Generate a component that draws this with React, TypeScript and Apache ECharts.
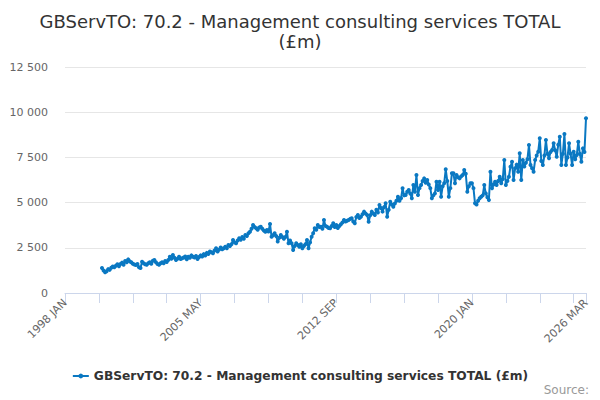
import React, { useEffect, useRef } from "react";
import * as echarts from "echarts";

const TITLE = "GBServTO: 70.2 - Management consulting services TOTAL\n(£m)";
const SERIES_NAME = "GBServTO: 70.2 - Management consulting services TOTAL (£m)";
const MONTHS = ["JAN", "FEB", "MAR", "APR", "MAY", "JUN", "JUL", "AUG", "SEP", "OCT", "NOV", "DEC"];
const FIRST_YEAR = 1998;
const LAST_YEAR = 2026;
const LAST_MONTH = 3; // MAR
const DATA_START = "2000 JAN";

const values2000s = [
  // 2000
  1380, 1250, 1150, 1200, 1320, 1280, 1400, 1460, 1420, 1510, 1590, 1480,
  // 2001
  1600, 1680, 1560, 1770, 1700, 1860, 1750, 1700, 1620, 1580, 1550, 1600,
  // 2002
  1420, 1380, 1730, 1650, 1590, 1560, 1640, 1700, 1620, 1780, 1825, 1700,
  // 2003
  1600, 1560, 1650, 1700, 1640, 1770, 1720, 1820, 2010, 1900, 2100, 1950,
  // 2004
  1830, 1900, 2010, 1880, 1920, 1960, 2020, 1870, 2010, 1950, 2080, 2000,
  // 2005
  1960, 2050, 1880, 1990, 2080, 2020, 2150, 2080, 2220, 2160, 2300, 2250,
  // 2006
  2200, 2350, 2470, 2300, 2400, 2520, 2420, 2470, 2560, 2480, 2650, 2600,
  // 2007
  2700, 2930, 2800, 2750, 2900, 3025, 2950, 3100, 3000, 3210, 3150, 3300,
  // 2008
  3390, 3550, 3760, 3650, 3580, 3500, 3620, 3670, 3550, 3450, 3390, 3480,
  // 2009
  3400, 3820, 3110, 3200, 3300, 3150, 2850, 3050, 3210, 3100, 3000, 3100,
];

const values2010s = [
  // 2010
  3390, 2750, 2900, 2750, 2380, 2600, 2750, 2650, 2560, 2700, 2470, 2600,
  // 2011
  2700, 2930, 2470, 2800, 3110, 3300, 3580, 3500, 3760, 3650, 3670, 3550,
  // 2012
  4040, 3700, 3670, 3600, 3580, 3700, 3855, 3650, 3760, 3600, 3700, 3800,
  // 2013
  3900, 4040, 3950, 4000, 4040, 4100, 4130, 3950, 3855, 4200, 4310, 4150,
  // 2014
  4220, 4350, 4500, 4400, 4310, 3940, 4300, 4500, 4400, 4310, 4600, 4450,
  // 2015
  4865, 4700, 4500, 4750, 4960, 4220, 4600, 5050, 4900, 4770, 4950, 5100,
  // 2016
  5325, 5100, 5235, 5790, 5400, 5420, 5600, 5700, 5500, 5235, 5970, 5600,
  // 2017
  6525, 5420, 5800, 5970, 6200, 6340, 6100, 6250, 6000, 5800, 5235, 5400,
  // 2018
  5510, 6155, 5700, 6155, 5325, 5900, 6065, 6840, 6200, 5325, 5800, 6620,
  // 2019
  6620, 6065, 6525, 6400, 6340, 6450, 6525, 6800, 6600, 5600, 5900, 6065,
];

const values2020s = [
  // 2020
  6065, 5800, 4960, 4900, 5100, 5235, 5325, 5400, 5970, 5510, 5300, 5140,
  // 2021
  6710, 5790, 6000, 6155, 5970, 6200, 6430, 6065, 6300, 7355, 5970, 6200,
  // 2022
  6430, 6985, 7260, 6250, 6895, 7100, 6710, 7725, 6250, 7355, 7000, 7200,
  // 2023
  7400, 8185, 7080, 6900, 6710, 7355, 7600, 7815, 8555, 7300, 7080, 7600,
  // 2024
  8460, 7700, 7450, 7800, 7910, 8280, 7900, 7540, 8200, 8645, 7080, 7700,
  // 2025
  8790, 7080, 7500, 8280, 7700, 7080, 7815, 7400, 7630, 8370, 7700, 7260,
  // 2026
  8000, 7800, 9660,
];

const Y_MIN = 0;
const Y_MAX = 12500;
const Y_STEP = 2500;
const TICK_EVERY = 22;
const LABEL_EVERY = 88;

function buildCategories(): string[] {
  const out: string[] = [];
  for (let y = FIRST_YEAR; y <= LAST_YEAR; y++) {
    for (let m = 0; m < 12; m++) {
      if (y === LAST_YEAR && m >= LAST_MONTH) break;
      out.push(`${y} ${MONTHS[m]}`);
    }
  }
  return out;
}

function fmt(v: number): string {
  return String(v).replace(/\B(?=(\d{3})+(?!\d))/g, " ");
}

export default function App() {
  const ref = useRef<HTMLDivElement>(null);

  useEffect(() => {
    if (!ref.current) return;
    const chart = echarts.init(ref.current, null, { renderer: "svg" });
    const categories = buildCategories();
    const allValues = [...values2000s, ...values2010s, ...values2020s];
    const startIdx = categories.indexOf(DATA_START);
    const data: (number | null)[] = categories.map((_, i) =>
      i >= startIdx && i - startIdx < allValues.length ? allValues[i - startIdx] : null
    );
    const last = categories.length - 1;
    const font = "'DejaVu Sans', sans-serif";
    const color = "#0a78c2";

    chart.setOption({
      animation: false,
      textStyle: { fontFamily: font },
      title: {
        text: TITLE,
        left: "center",
        top: 6,
        textStyle: {
          fontFamily: font,
          fontSize: 18,
          fontWeight: "normal",
          color: "#333333",
          lineHeight: 20,
        },
      },
      grid: { left: 65, right: 14, top: 67, bottom: 107, containLabel: false },
      legend: {
        top: 365,
        left: "center",
        itemWidth: 16,
        itemHeight: 6,
        itemGap: 10,
        textStyle: { fontFamily: font, fontSize: 12.25, fontWeight: "bold", color: "#333333" },
        data: [SERIES_NAME],
      },
      xAxis: {
        type: "category",
        data: categories,
        boundaryGap: false,
        axisLine: { show: true, lineStyle: { color: "#ccd6eb", width: 1 } },
        axisTick: {
          show: true,
          length: 10,
          interval: (i: number) => i % TICK_EVERY === 0 || i === last,
          lineStyle: { color: "#ccd6eb" },
        },
        axisLabel: {
          interval: (i: number) => i % LABEL_EVERY === 0 || i === last,
          rotate: 45,
          color: "#666666",
          fontSize: 11,
          fontFamily: font,
          margin: 8,
          hideOverlap: false,
        },
        splitLine: { show: false },
      },
      yAxis: {
        type: "value",
        min: Y_MIN,
        max: Y_MAX,
        interval: Y_STEP,
        axisLine: { show: false },
        axisTick: { show: false },
        axisLabel: {
          color: "#666666",
          fontSize: 11,
          fontFamily: font,
          margin: 17,
          formatter: (v: number) => fmt(v),
        },
        splitLine: { lineStyle: { color: "#e6e6e6", width: 1 } },
      },
      series: [
        {
          name: SERIES_NAME,
          type: "line",
          data,
          showSymbol: true,
          showAllSymbol: true,
          symbol: "circle",
          symbolSize: 4,
          connectNulls: false,
          itemStyle: { color },
          lineStyle: { color, width: 2 },
        },
      ],
      graphic: [
        {
          type: "text",
          right: 11,
          top: 384,
          style: {
            text: "Source:",
            fill: "#999999",
            fontSize: 12,
            fontFamily: font,
          },
        },
      ],
    });

    return () => chart.dispose();
  }, []);

  return (
    <div
      ref={ref}
      style={{ position: "fixed", left: 0, top: 0, width: 600, height: 400, background: "#ffffff" }}
    />
  );
}
